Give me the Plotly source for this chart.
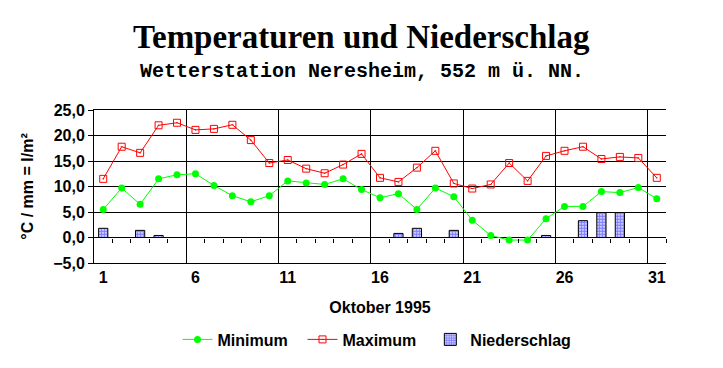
import plotly.graph_objects as go

days = list(range(1, 32))
tmin = [5.5, 9.7, 6.5, 11.5, 12.3, 12.5, 10.2, 8.2, 7.0, 8.2,
        11.1, 10.7, 10.4, 11.5, 9.4, 7.8, 8.6, 5.5, 9.7, 8.0,
        3.4, 0.4, -0.5, -0.5, 3.7, 6.1, 6.1, 9.0, 8.8, 9.8, 7.6]
tmax = [11.5, 17.8, 16.6, 22.0, 22.5, 21.1, 21.3, 22.1, 19.1, 14.6,
        15.2, 13.5, 12.6, 14.3, 16.4, 11.7, 10.9, 13.7, 17.0, 10.6,
        9.6, 10.4, 14.6, 11.1, 16.0, 17.0, 17.8, 15.4, 15.8, 15.6, 11.7]
rain = [1.8, None, 1.4, 0.4, None, None, None, None, None, None,
        None, None, None, None, None, None, 0.8, 1.8, None, 1.4,
        None, None, None, None, 0.4, None, 3.3, 4.9, 4.9, None, None]
label_days = [1, 6, 11, 16, 21, 26, 31]
grid_days = [5.5, 10.5, 15.5, 20.5, 25.5, 30.5]
tick_days = [d + 0.5 for d in days]

FONT = "Liberation Sans"
BFONT = dict(family=FONT, size=16, color="black", weight="bold")

fig = go.Figure()
# invisible helper traces so the overlay axes (grid / zero-line ticks) are drawn
for ax in ("x2", "x3"):
    fig.add_trace(go.Scatter(x=days, y=tmin, xaxis=ax, yaxis="y", mode="lines",
                             line=dict(width=0, color="rgba(0,0,0,0)"),
                             showlegend=False, hoverinfo="skip"))
fig.add_trace(go.Scatter(
    x=days, y=tmin, name="Minimum", mode="lines+markers",
    line=dict(color="#00ff00", width=1),
    marker=dict(symbol="circle", size=7, color="#00ff00"),
    legend="legend",
))
fig.add_trace(go.Scatter(
    x=days, y=tmax, name="Maximum", mode="lines+markers",
    line=dict(color="#ff0000", width=1),
    marker=dict(symbol="square-open-dot", size=7, color="#ff0000",
                line=dict(width=1, color="#ff0000")),
    legend="legend",
))
fig.add_trace(go.Bar(
    x=days, y=rain, name="Niederschlag", width=0.5,
    marker=dict(color="white", line=dict(color="black", width=1),
                pattern=dict(shape=".", fgcolor="#0000ff", bgcolor="white",
                             size=3, solidity=0.75)),
    legend="legend2",
))

fig.update_layout(
    width=723, height=368,
    margin=dict(l=94, r=57, t=110, b=105),
    paper_bgcolor="white", plot_bgcolor="white",
    separators=",.",
    font=BFONT,
    showlegend=True,
    legend=dict(orientation="h", x=0.146, xanchor="left", y=-0.5, yanchor="middle",
                entrywidth=80, entrywidthmode="pixels",
                font=BFONT, traceorder="normal", bgcolor="rgba(0,0,0,0)"),
    legend2=dict(orientation="h", x=0.588, xanchor="left", y=-0.5, yanchor="middle",
                 font=BFONT, bgcolor="rgba(0,0,0,0)"),
    xaxis=dict(range=[0.5, 31.5], tickmode="array", tickvals=label_days,
               ticktext=[str(d) for d in label_days],
               ticks="", tickfont=BFONT,
               showgrid=False, zeroline=False,
               showline=True, linecolor="black", linewidth=1, mirror=True,
               title=dict(text="Oktober 1995", standoff=16, font=BFONT)),
    xaxis2=dict(range=[0.5, 31.5], overlaying="x", anchor="y", side="bottom",
                tickmode="array", tickvals=grid_days, showticklabels=False,
                ticks="", showgrid=True, gridcolor="black", gridwidth=1,
                zeroline=False, showline=False),
    xaxis3=dict(range=[0.5, 31.5], overlaying="x", anchor="free", position=1/6,
                side="bottom", tickmode="array", tickvals=tick_days,
                showticklabels=False, ticks="outside", ticklen=4,
                tickcolor="black", tickwidth=1,
                showgrid=False, zeroline=False, showline=False),
    yaxis=dict(range=[-5, 25], tickmode="linear", tick0=-5, dtick=5,
               tickformat=".1f", ticks="outside", ticklen=5, tickcolor="black",
               tickfont=BFONT,
               showgrid=True, gridcolor="black", gridwidth=1,
               zeroline=True, zerolinecolor="black", zerolinewidth=1,
               showline=True, linecolor="black", linewidth=1,
               title=dict(text="°C / mm = l/m²", standoff=15, font=BFONT)),
    annotations=[
        dict(text="<b>Temperaturen und Niederschlag</b>", xref="paper", yref="paper",
             x=0.4685, y=1.476, xanchor="center", yanchor="middle", showarrow=False,
             font=dict(family="Liberation Serif", size=33, color="black")),
        dict(text="<b>Wetterstation Neresheim, 552 m ü. NN.</b>", xref="paper", yref="paper",
             x=0.4685, y=1.254, xanchor="center", yanchor="middle", showarrow=False,
             font=dict(family="Liberation Mono", size=20, color="black")),
    ],
)

fig.write_html("out.html")
